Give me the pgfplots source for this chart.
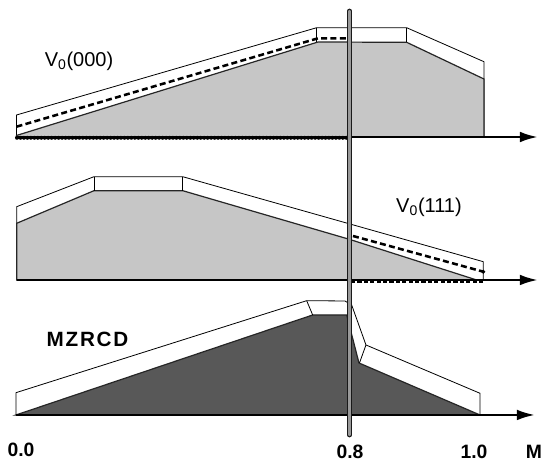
\documentclass[border=0pt]{standalone}
\usepackage{pgfplots}
\pgfplotsset{compat=1.18}
\usepackage{fontspec}
\setmainfont{Liberation Sans}
\usetikzlibrary{arrows.meta}
\definecolor{lightfill}{HTML}{C6C6C6}
\definecolor{darkfill}{HTML}{585858}
\begin{document}
\begin{tikzpicture}
\begin{axis}[
  width=406.5pt, height=348.75pt, scale only axis,
  xmin=0, xmax=542, ymin=0, ymax=465, y dir=reverse,
  hide axis, clip=false,
]
\path (axis cs:0,0) (axis cs:542,465);
% ---------- Panel 1: V0(000)
\addplot[draw=black, line width=0.6pt, fill=white] coordinates {
 (16.5,137) (16.5,115) (316.7,27.7) (406.7,27.7) (484,61.7) (484,137)} -- cycle;
\addplot[draw=black!85, line width=0.9pt, fill=lightfill] coordinates {
 (16.5,137) (16.5,135.5) (318,42) (406.7,42.3) (484,79) (484,137)} -- cycle;
\addplot[draw=black, line width=0.6pt] coordinates {(316.7,27.7) (316.7,42)};
\addplot[draw=black, line width=0.6pt] coordinates {(406.7,27.7) (406.7,42.3)};
\addplot[draw=black, line width=1.9pt, dash pattern=on 4.5pt off 2.5pt] coordinates {
 (16.5,126.7) (318,38.3) (351.7,38.3)};
\addplot[draw=black, line width=1.9pt, -{Latex[length=13.5pt,width=8pt]}] coordinates {(16.5,137) (538,137)};
\addplot[draw=black, line width=3pt, line cap=round, dash pattern=on 0pt off 2.6pt] coordinates {(17,137.8) (350,137.8)};
% ---------- Panel 2: V0(111)
\addplot[draw=black, line width=0.6pt, fill=white] coordinates {
 (16.7,280) (16.7,206.7) (94,176.7) (182.7,176.7) (483.3,261.7) (483.3,280)} -- cycle;
\addplot[draw=black!85, line width=0.9pt, fill=lightfill] coordinates {
 (16.7,280) (16.7,223.3) (94,190.7) (182.7,190.7) (349.3,239.3) (476.7,280)} -- cycle;
\addplot[draw=black, line width=0.6pt] coordinates {(94,176.7) (94,190.7)};
\addplot[draw=black, line width=0.6pt] coordinates {(182.7,176.7) (182.7,190.7)};
\addplot[draw=black, line width=1.9pt, dash pattern=on 4.5pt off 2.5pt] coordinates {
 (353,236) (483.3,271.7)};
\addplot[draw=black, only marks, mark=*, mark size=1.3pt] coordinates {(483.3,271.7)};
\addplot[draw=black, line width=1.9pt, -{Latex[length=13.5pt,width=8pt]}] coordinates {(16.7,280) (538,280)};
\addplot[draw=black, line width=2.8pt, dash pattern=on 3.2pt off 1.6pt] coordinates {(351,281) (484,281)};
% ---------- Panel 3: MZRCD
\addplot[draw=black, line width=0.6pt, fill=white] coordinates {
 (16,415) (16,392.7) (306.7,300.7) (345,301) (351.7,305) (366,345) (480,393.3) (480,415)} -- cycle;
\addplot[draw=black!85, line width=0.9pt, fill=darkfill] coordinates {
 (16,415) (312.7,315) (346.7,315) (359,363) (480,415)} -- cycle;
\addplot[draw=black, line width=0.6pt] coordinates {(306.7,300.7) (312.7,315)};
\addplot[draw=black, line width=0.6pt] coordinates {(366,345) (359.5,363)};
\addplot[draw=black, line width=1.9pt, -{Latex[length=13.5pt,width=8pt]}] coordinates {(16,415) (535,415)};
% ---------- vertical marker at 0.8
\addplot[draw=black!90, line width=0.9pt, line cap=round, double=black!40, double distance=1.8pt] coordinates {(349.5,11) (349.5,435)};
% ---------- labels
\node[inner sep=0pt, font=\fontsize{15}{18}\selectfont] at (axis cs:79,61) {V\textsubscript{0}(000)};
\node[inner sep=0pt, font=\fontsize{15}{18}\selectfont] at (axis cs:429,207) {V\textsubscript{0}(111)};
\node[inner sep=0pt, font=\bfseries\fontsize{15.5}{18}\selectfont] at (axis cs:87.5,339) {M\kern1.3pt Z\kern1.3pt R\kern1.3pt C\kern1.3pt D};
\node[inner sep=0pt, font=\bfseries\fontsize{14.5}{16}\selectfont] at (axis cs:21,450) {0.0};
\node[inner sep=0pt, font=\bfseries\fontsize{14.5}{16}\selectfont] at (axis cs:350,452) {0.8};
\node[inner sep=0pt, font=\bfseries\fontsize{14.5}{16}\selectfont] at (axis cs:474,452) {1.0};
\node[inner sep=0pt, font=\bfseries\fontsize{14.5}{16}\selectfont] at (axis cs:534,452) {M};
\end{axis}
\end{tikzpicture}
\end{document}
